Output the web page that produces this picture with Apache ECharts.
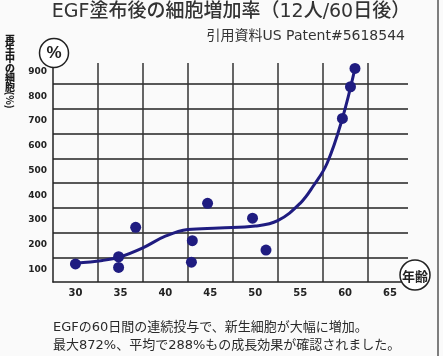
<!DOCTYPE html>
<html><head><meta charset="utf-8">
<script src="https://cdn.jsdelivr.net/npm/echarts@6/dist/echarts.min.js"></script>
<style>html,body{margin:0;padding:0;background:#fafafa}#c{width:443px;height:356px}</style>
</head><body><div id="c"></div>
<script>
// tick labels
const xTickLabels = [30, 35, 40, 45, 50, 55, 60, 65];
const yTickLabels = [100, 200, 300, 400, 500, 600, 700, 800, 900];
// individual subjects (age, % regenerating cells)
const ages = [30, 34.8, 34.8, 36.7, 42.9, 43.0, 44.7, 49.7, 51.2, 59.7, 60.6, 61.1];
const pcts = [123, 152, 109, 271, 130, 217, 368, 308, 179, 711, 839, 913];
// hand-drawn trend curve
const trendAges = [30, 33, 35, 37.5, 40, 42.5, 46, 50, 52.5, 55, 56.5, 58, 59.7, 61.1];
const trendPcts = [126, 137, 152, 188, 235, 262, 268, 276, 298, 368, 440, 530, 711, 913];
// vertical y-axis title
const yTitleChars = ['再', '生', '中', 'の', '細', '胞'];

const ink = '#1f1c80';
const latinCjk = 'DejaVu Sans, Noto Sans CJK JP';
const gridX = xTickLabels.map(v => v + 2.5).filter(v => v < 65);
const gridY = yTickLabels.map(v => v + 50).filter(v => v < 900);

const chart = echarts.init(document.getElementById('c'));
chart.setOption({
  backgroundColor: '#fafafa',
  animation: false,
  grid: {left: 53, top: 63, right: 35, bottom: 74},
  xAxis: {
    type: 'value', min: 27.5, max: 67,
    axisLine: {lineStyle: {color: '#222', width: 1.5}},
    axisTick: {show: false, customValues: gridX},
    axisLabel: {customValues: xTickLabels, color: '#222', fontWeight: 'bold', fontSize: 10, margin: 6, fontFamily: 'DejaVu Sans'},
    splitLine: {show: true, lineStyle: {color: '#333', width: 1.5}}
  },
  yAxis: {
    type: 'value', min: 50, max: 935,
    axisLine: {show: true, lineStyle: {color: '#222', width: 1.5}},
    axisTick: {show: false, customValues: gridY},
    axisLabel: {customValues: yTickLabels, color: '#222', fontWeight: 'bold', fontSize: 9, margin: 6, fontFamily: 'DejaVu Sans'},
    splitLine: {show: true, lineStyle: {color: '#222', width: 1.5}}
  },
  series: [
    {type: 'line', data: trendAges.map((a, i) => [a, trendPcts[i]]), smooth: 0.4,
     showSymbol: false, lineStyle: {color: ink, width: 3}, z: 3},
    {type: 'scatter', data: ages.map((a, i) => [a, pcts[i]]), symbolSize: 11,
     itemStyle: {color: ink, opacity: 1}, z: 4}
  ],
  graphic: [
    {type: 'text', x: 231, y: 3, style: {text: 'EGF塗布後の細胞増加率（12人/60日後）', fontSize: 19, fill: '#333', fontFamily: latinCjk, fontWeight: 500, align: 'center'}},
    {type: 'text', right: 38, top: 29, style: {text: '引用資料US Patent#5618544', fontSize: 14, fill: '#333', fontFamily: latinCjk}},
    ...yTitleChars.map((ch, i) => ({type: 'text', x: 10, y: 39 + i * 9.6,
      style: {text: ch, fontSize: 10, fill: '#1a1a1a', fontWeight: 900, align: 'center', verticalAlign: 'middle', fontFamily: 'Noto Sans CJK JP'}})),
    {type: 'text', x: 10, y: 100, rotation: -Math.PI / 2, style: {text: '(%)', fontSize: 10, fill: '#1a1a1a', fontWeight: 'bold', fontFamily: 'Noto Sans CJK JP', align: 'center', verticalAlign: 'middle'}},
    {type: 'circle', shape: {cx: 54, cy: 53, r: 14.5}, style: {fill: '#fff', stroke: '#222', lineWidth: 1.5}, z: 10},
    {type: 'text', x: 54, y: 53, z: 11, style: {text: '%', fontSize: 17, fontWeight: 'bold', fill: '#222', align: 'center', verticalAlign: 'middle', fontFamily: 'Liberation Sans'}},
    {type: 'circle', shape: {cx: 415, cy: 275, r: 15}, style: {fill: '#fff', stroke: '#222', lineWidth: 1.5}, z: 10},
    {type: 'text', x: 415, y: 276, z: 11, style: {text: '年齢', fontSize: 13, fontWeight: 'bold', fill: '#222', align: 'center', verticalAlign: 'middle', fontFamily: 'Noto Sans CJK JP'}},
    {type: 'text', left: 53, top: 319, style: {text: 'EGFの60日間の連続投与で、新生細胞が大幅に増加。\n最大872%、平均で288%もの成長効果が確認されました。', fontSize: 13, lineHeight: 18, fill: '#2a2a2a', fontFamily: latinCjk}},
    {type: 'line', shape: {x1: 438, y1: 0, x2: 438, y2: 356}, style: {stroke: '#555', lineWidth: 1.5}}
  ]
});
</script></body></html>
